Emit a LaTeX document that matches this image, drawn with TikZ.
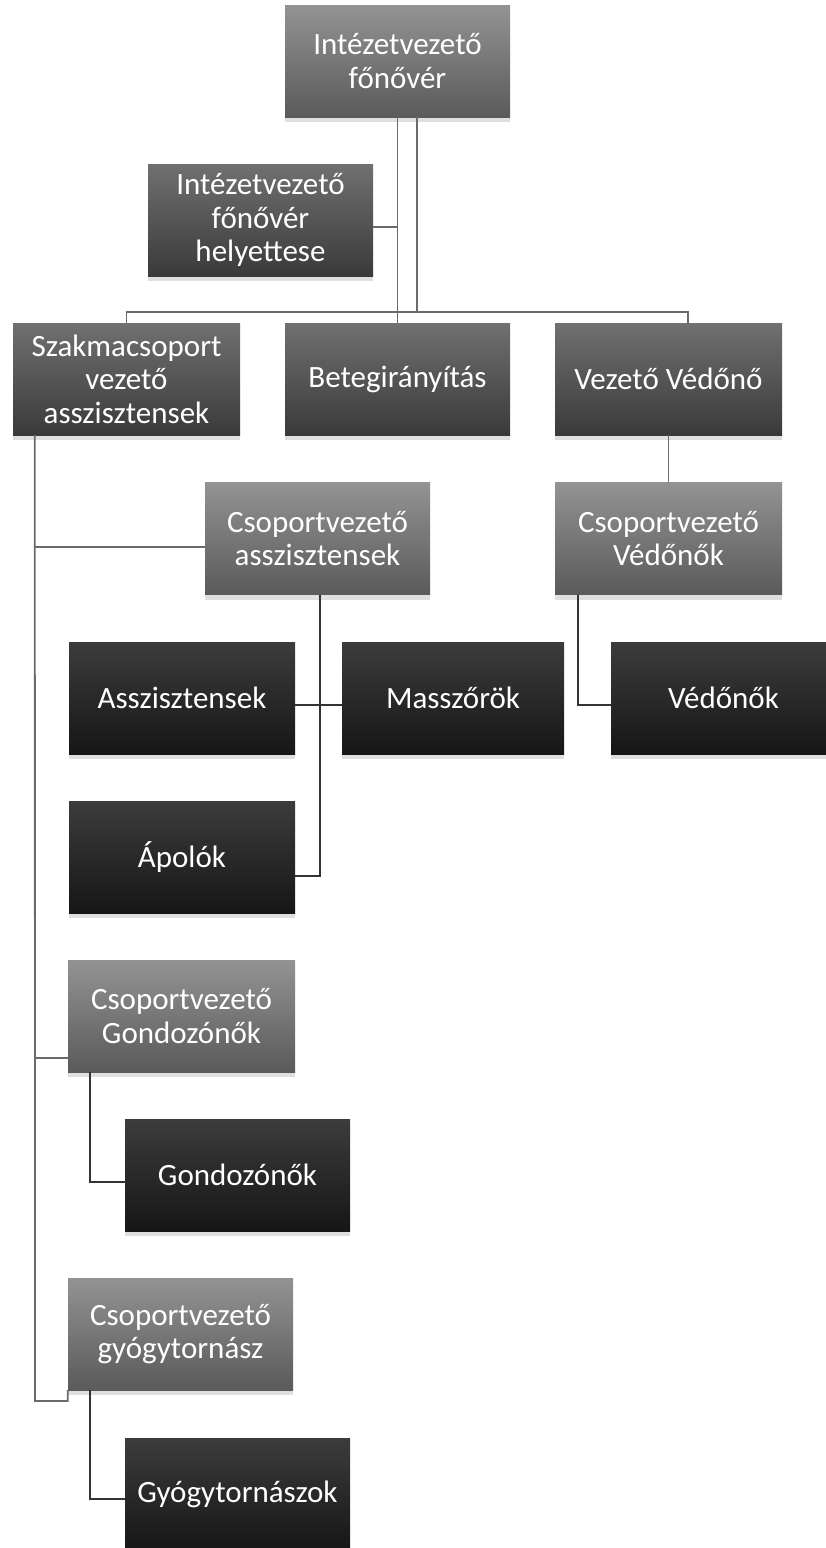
\documentclass[tikz,border=0pt]{standalone}
\usepackage{fontspec}
\setmainfont{Carlito}
\usetikzlibrary{shadows}
\definecolor{midtop}{HTML}{939393}
\definecolor{midbot}{HTML}{5A5A5A}
\definecolor{lvtop}{HTML}{707070}
\definecolor{lvbot}{HTML}{3A3A3A}
\definecolor{dktop}{HTML}{3C3C3C}
\definecolor{dkbot}{HTML}{161616}
\definecolor{lineL}{HTML}{6A6A6A}
\definecolor{lineD}{HTML}{333333}
\begin{document}
\begin{tikzpicture}[x=1pt,y=1pt,
  box/.style={minimum width=225pt, minimum height=112pt, inner sep=0pt,
    align=center, text=white, font=\fontsize{31}{33.5}\selectfont,
    drop shadow={shadow xshift=0pt, shadow yshift=-5pt, opacity=0.25, fill=gray}},
  midbox/.style={box, top color=midtop, bottom color=midbot},
  lvbox/.style={box, top color=lvtop, bottom color=lvbot},
  dkbox/.style={box, top color=dktop, bottom color=dkbot},
  connL/.style={draw=lineL, line width=1.8pt},
  connD/.style={draw=lineD, line width=1.8pt}
]
\useasboundingbox (0,0) rectangle (825,-1548);

% nodes
\node[midbox] (top)  at (397.5,-61)  {Intézetvezető\\főnővér};
\node[lvbox]  (help) at (260.5,-220) {Intézetvezető\\főnővér\\helyettese};
\node[lvbox, minimum width=227pt] (szak) at (126.5,-379) {Szakmacsoport\\vezető\\asszisztensek};
\node[lvbox]  (bete) at (397.5,-379) {Betegirányítás};
\node[lvbox, minimum width=227pt] (vvn)  at (668.5,-379) {Vezető Védőnő};
\node[midbox] (csa)  at (317.5,-538.5) {Csoportvezető\\asszisztensek};
\node[midbox, minimum width=227pt] (csv)  at (668.5,-538.5) {Csoportvezető\\Védőnők};
\node[dkbox, minimum width=226pt]  (assz) at (182,-698) {Asszisztensek};
\node[dkbox, minimum width=222pt]  (mass) at (453,-698) {Masszőrök};
\node[dkbox]  (vedo) at (723.5,-698) {Védőnők};
\node[dkbox, minimum width=226pt]  (apol) at (182,-857) {Ápolók};
\node[midbox, minimum width=227pt] (csg)  at (181.5,-1016) {Csoportvezető\\Gondozónők};
\node[dkbox]  (gond) at (237.5,-1175) {Gondozónők};
\node[midbox] (csgy) at (180.5,-1334) {Csoportvezető\\gyógytornász};
\node[dkbox]  (gyog) at (237.5,-1494) {Gyógytornászok};

\coordinate (busy) at (0,-312);
\coordinate (trunk) at ([xshift=22pt]szak.south west);
\coordinate (trunkend) at (35,-1401);

% top connectors
\draw[connL] (top.south) -- (bete.north);
\draw[connL] ([xshift=19.5pt]top.south) -- ([xshift=19.5pt]top.south |- busy);
\draw[connL] ([yshift=-7pt]help.east) -- ([yshift=-7pt]help.east -| top.south);
\draw[connL] (szak.north) -- (szak.north |- busy) -- ([xshift=19.5pt]vvn.north |- busy) -- ([xshift=19.5pt]vvn.north);

% trunk on the left
\draw[connL] (trunk) -- (trunkend) -- (trunkend -| csgy.south west) -- (csgy.south west);
\draw[connL] ([yshift=-8.5pt]csa.west) -- ([yshift=-8.5pt]csa.west -| trunk);
\draw[connL] ([yshift=-42pt]csg.west) -- ([yshift=-42pt]csg.west -| trunk);

% Csoportvezető asszisztensek group
\draw[connD] ([xshift=2.5pt]csa.south) |- ([yshift=-19pt]apol.east);
\draw[connD] ([yshift=-7pt]assz.east) -- ([yshift=-7pt]mass.west);

% Védőnők
\draw[connL] (vvn.south) -- (csv.north);
\draw[connD] ([xshift=23pt]csv.south west) |- ([yshift=-7pt]vedo.west);

% Gondozónők and gyógytornász
\draw[connD] ([xshift=22pt]csg.south west) |- ([yshift=-7pt]gond.west);
\draw[connD] ([xshift=22pt]csgy.south west) |- ([yshift=-5pt]gyog.west);
\end{tikzpicture}
\end{document}
